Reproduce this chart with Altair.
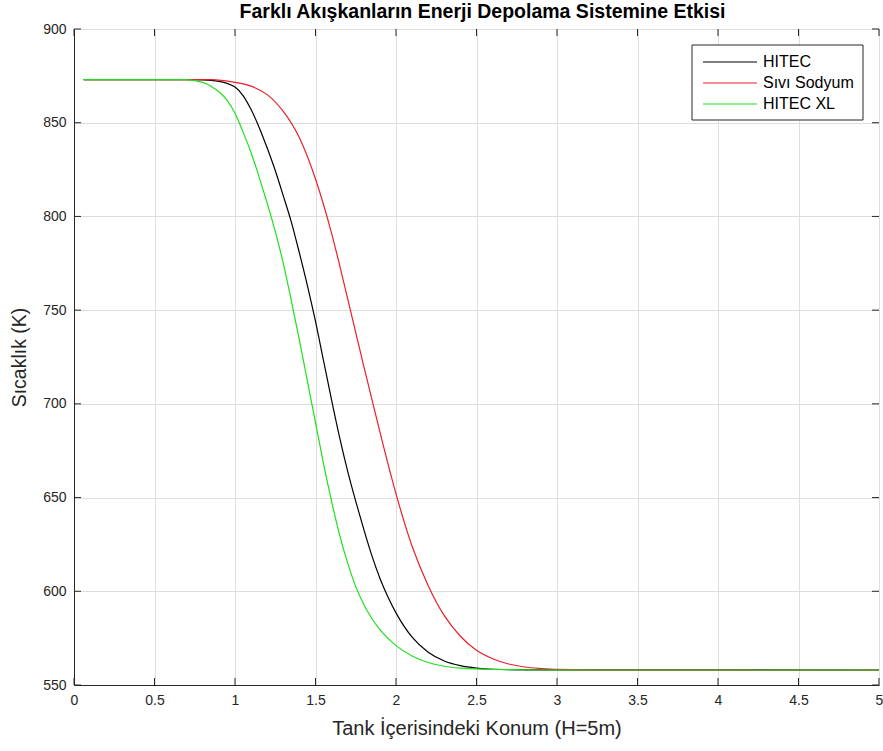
import altair as alt
import pandas as pd

# ---- data ----
series_names = ["HITEC", "Sıvı Sodyum", "HITEC XL"]
series_colors = ["#000000", "#e8202a", "#1fe01f"]

hitec_x = [0.06, 0.75, 0.85, 0.95, 1.00, 1.05, 1.10, 1.15, 1.20, 1.25, 1.30, 1.35,
           1.40, 1.45, 1.50, 1.55, 1.60, 1.65, 1.70, 1.75, 1.80, 1.85, 1.90, 1.95,
           2.00, 2.10, 2.20, 2.30, 2.40, 2.50, 2.60, 2.80, 5.0]
hitec_t = [873, 873, 872.6, 871, 869, 864.5, 857, 847.5, 836.5, 824.5, 811, 797,
           780.5, 763, 744, 723, 702, 682, 664, 648, 633, 619, 607, 597,
           588.5, 575.5, 567.5, 562.8, 560.3, 559, 558.4, 558.1, 558]

sodyum_x = [0.06, 0.85, 1.00, 1.10, 1.20, 1.30, 1.40, 1.50, 1.60, 1.70, 1.80,
            1.90, 2.00, 2.10, 2.20, 2.30, 2.40, 2.50, 2.60, 2.70, 2.80, 2.90,
            3.00, 3.20, 5.0]
sodyum_t = [873, 873, 871.5, 869.5, 865, 856, 842, 820, 791, 756, 720,
            685, 652, 624, 603, 587, 576, 568.5, 564, 561.2, 559.6, 558.8,
            558.3, 558.05, 558]

xl_x = [0.06, 0.68, 0.75, 0.80, 0.85, 0.90, 0.95, 1.00, 1.05, 1.10, 1.15, 1.20,
        1.25, 1.30, 1.35, 1.40, 1.45, 1.50, 1.55, 1.60, 1.65, 1.70, 1.75, 1.80,
        1.85, 1.90, 2.00, 2.10, 2.20, 2.30, 2.40, 2.60, 3.0, 5.0]
xl_t = [873, 873, 872.5, 871.5, 869.5, 866.5, 862, 855, 845, 834, 821, 807,
        792, 775, 755, 734, 712, 690, 668, 648, 630, 615, 602.5, 593,
        585.5, 579.5, 571, 565.5, 562, 560, 559, 558.3, 558, 558]

x_ticks = [0, 0.5, 1, 1.5, 2, 2.5, 3, 3.5, 4, 4.5, 5]
y_ticks = [550, 600, 650, 700, 750, 800, 850, 900]

title_text = "Farklı Akışkanların Enerji Depolama Sistemine Etkisi"
x_title = "Tank İçerisindeki Konum (H=5m)"
y_title = "Sıcaklık (K)"

# ---- build tables ----
frames = []
for name, xs, ts in [(series_names[0], hitec_x, hitec_t),
                     (series_names[1], sodyum_x, sodyum_t),
                     (series_names[2], xl_x, xl_t)]:
    frames.append(pd.DataFrame({"x": xs, "T": ts, "seri": name}))
df = pd.concat(frames, ignore_index=True)

xt = pd.DataFrame({"t": x_ticks})
yt = pd.DataFrame({"t": y_ticks})
leg = pd.DataFrame({"seri": series_names, "i": list(range(len(series_names)))})

FONT = "Liberation Sans"
W, H = 805, 656
AX = "#262626"
TL = 7

xscale = alt.Scale(domain=[0, 5], nice=False, zero=False)
yscale = alt.Scale(domain=[550, 900], nice=False, zero=False)
cscale = alt.Scale(domain=series_names, range=series_colors)

xaxis = alt.Axis(values=x_ticks, grid=True, gridColor="#dedede", ticks=False,
                 domainColor=AX, labelColor=AX, labelFont=FONT, labelFontSize=14,
                 labelPadding=8, title=x_title, titleFont=FONT, titleFontSize=20,
                 titleFontWeight="normal", titleColor=AX, titlePadding=11,
                 labelFlush=False, format="~g")
yaxis = alt.Axis(values=y_ticks, grid=True, gridColor="#dedede", ticks=False,
                 domainColor=AX, labelColor=AX, labelFont=FONT, labelFontSize=14,
                 labelPadding=8, title=y_title, titleFont=FONT, titleFontSize=19.5,
                 titleFontWeight="normal", titleColor=AX, titlePadding=13,
                 labelFlush=False)

layers = []
for name in series_names:
    layers.append(
        alt.Chart(df).transform_filter(alt.datum.seri == name).mark_line(
            strokeWidth=1.2, interpolate="monotone", clip=True
        ).encode(
            x=alt.X("x:Q", scale=xscale, axis=xaxis),
            y=alt.Y("T:Q", scale=yscale, axis=yaxis),
            color=alt.Color("seri:N", scale=cscale, legend=None),
        )
    )

tick_bottom = alt.Chart(xt).mark_rule(color=AX, strokeWidth=1).encode(
    x=alt.X("t:Q", scale=xscale), y=alt.value(H), y2=alt.value(H - TL))
tick_top = alt.Chart(xt).mark_rule(color=AX, strokeWidth=1).encode(
    x=alt.X("t:Q", scale=xscale), y=alt.value(0), y2=alt.value(TL))
tick_left = alt.Chart(yt).mark_rule(color=AX, strokeWidth=1).encode(
    y=alt.Y("t:Q", scale=yscale), x=alt.value(0), x2=alt.value(TL))
tick_right = alt.Chart(yt).mark_rule(color=AX, strokeWidth=1).encode(
    y=alt.Y("t:Q", scale=yscale), x=alt.value(W), x2=alt.value(W - TL))

# legend box (manual, MATLAB style)
legend_box = alt.Chart(pd.DataFrame({"a": [0]})).mark_rect(
    fill="white", stroke="#262626", strokeWidth=1
).encode(x=alt.value(618), x2=alt.value(789), y=alt.value(16), y2=alt.value(91))

legend_lines = alt.Chart(leg).transform_calculate(
    py="33 + datum.i * 21"
).mark_rule(strokeWidth=1.2).encode(
    x=alt.value(629), x2=alt.value(683),
    y=alt.Y("py:Q", scale=None),
    color=alt.Color("seri:N", scale=cscale, legend=None),
)
legend_text = alt.Chart(leg).transform_calculate(
    py="33 + datum.i * 21"
).mark_text(align="left", baseline="middle", font=FONT, fontSize=16, color="#000000").encode(
    x=alt.value(689),
    y=alt.Y("py:Q", scale=None),
    text="seri:N",
)

chart = alt.layer(
    *layers, tick_bottom, tick_top, tick_left, tick_right,
    legend_box, legend_lines, legend_text
).properties(
    width=W, height=H,
    title=alt.TitleParams(title_text, font=FONT, fontSize=19.5, fontWeight="bold",
                          color="#000000", offset=0, anchor="middle", dx=6),
    autosize=alt.AutoSizeParams(type="none"),
    padding={"left": 74, "top": 29, "right": 4, "bottom": 66},
).configure_view(stroke=AX, strokeWidth=1).configure(background="white")

chart.save("out.html", embed_options={"renderer": "svg", "actions": False})
